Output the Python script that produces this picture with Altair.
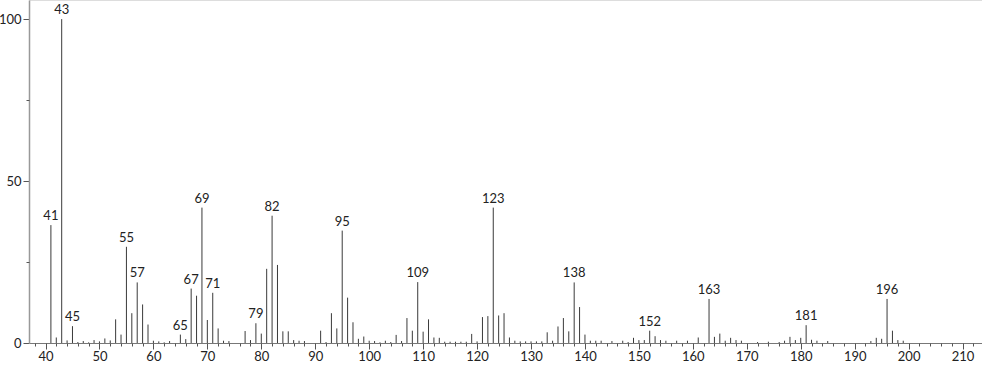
import altair as alt
import pandas as pd

mz = [41, 42, 43, 44, 45, 46, 47, 48, 49, 50, 51, 52, 53, 54, 55, 56, 57, 58, 59, 60,
      61, 62, 63, 65, 66, 67, 68, 69, 70, 71, 72, 73, 74, 77, 78, 79, 80, 81, 82, 83,
      84, 85, 86, 87, 88, 91, 92, 93, 94, 95, 96, 97, 98, 99, 100, 101, 102, 103, 104, 105,
      106, 107, 108, 109, 110, 111, 112, 113, 114, 115, 116, 117, 118, 119, 120, 121, 122, 123, 124, 125,
      126, 127, 128, 129, 130, 131, 132, 133, 134, 135, 136, 137, 138, 139, 140, 141, 142, 143, 145, 147,
      148, 149, 150, 151, 152, 153, 154, 155, 157, 159, 161, 163, 164, 165, 166, 167, 168, 169, 172, 174,
      176, 177, 178, 179, 180, 181, 182, 183, 185, 193, 194, 195, 196, 197, 198, 199]
intensity = [36.4, 1.7, 100, 0.8, 5.2, 0.3, 0.6, 0.2, 0.9, 0.5, 1.4, 0.8, 7.3, 2.6, 29.7, 9.2, 18.7, 11.9, 5.7, 0.7,
             0.5, 0.2, 0.6, 2.6, 1.2, 16.8, 14.6, 41.8, 7.1, 15.5, 4.5, 0.7, 0.6, 3.7, 0.9, 6.1, 2.9, 22.9, 39.3, 24.1,
             3.6, 3.6, 0.9, 0.7, 0.6, 3.8, 0.3, 9.2, 4.5, 34.7, 14.0, 6.4, 1.3, 2.0, 0.7, 0.6, 0.2, 0.7, 0.3, 2.5,
             0.6, 7.7, 3.8, 18.8, 3.5, 7.3, 1.7, 1.6, 0.4, 0.4, 0.4, 0.4, 0.4, 2.8, 0.5, 8.0, 8.3, 41.8, 8.5, 9.2,
             1.7, 0.7, 0.5, 0.5, 0.5, 0.5, 0.5, 3.3, 0.7, 5.1, 7.7, 3.6, 18.7, 11.1, 2.6, 0.7, 0.7, 0.7, 0.6, 0.7,
             0.3, 1.6, 0.9, 0.9, 3.8, 2.1, 0.9, 0.7, 0.7, 0.7, 1.7, 13.6, 1.9, 2.9, 0.7, 1.6, 0.9, 0.7, 0.3, 0.4,
             0.3, 0.7, 1.9, 0.9, 1.6, 5.5, 1.0, 0.7, 0.6, 0.6, 1.6, 1.3, 13.6, 3.8, 0.9, 0.7]
labeled = [41, 43, 45, 55, 57, 65, 67, 69, 71, 79, 82, 95, 109, 123, 138, 152, 163, 181, 196]

x_major = list(range(40, 211, 10))
x_minor = list(range(38, 214, 2))
y_major = [0, 50, 100]
y_minor = [25, 75]

df = pd.DataFrame({"mz": mz, "intensity": intensity})

FONT = "Lato"
x_scale = alt.Scale(domain=[36.94, 213.6], nice=False, zero=False)
y_scale = alt.Scale(domain=[0, 105.9], nice=False)

x_axis_major = alt.Axis(
    values=x_major, orient="bottom", tickSize=6, labelOverlap=False, grid=False, title=None,
    domainColor="#777", tickColor="#555", labelColor="#222",
    labelFont=FONT, labelFontSize=13, labelPadding=1,
)
x_axis_minor = alt.Axis(
    values=x_minor, orient="bottom", tickSize=3, labels=False, domain=False, grid=False,
    title=None, tickColor="#555",
)
y_axis_major = alt.Axis(
    values=y_major, orient="left", tickSize=6, labelOverlap=False, grid=False, title=None,
    domainColor="#999", domainWidth=1.5, tickColor="#555", labelColor="#222",
    labelFont=FONT, labelFontSize=13, labelPadding=2,
)
y_axis_minor = alt.Axis(
    values=y_minor, orient="left", tickSize=3, labels=False, domain=False, grid=False,
    title=None, tickColor="#555",
)

rules = alt.Chart(df).mark_rule(color="#3a3a3a", strokeWidth=1).encode(
    x=alt.X("mz:Q", scale=x_scale, axis=x_axis_major),
    y=alt.Y("intensity:Q", scale=y_scale, axis=y_axis_major),
    y2=alt.datum(0),
)

labels = alt.Chart(df).transform_filter(
    alt.FieldOneOfPredicate(field="mz", oneOf=labeled)
).mark_text(baseline="alphabetic", dy=-5, font=FONT, fontSize=13, color="#222").encode(
    x=alt.X("mz:Q", scale=x_scale, axis=x_axis_minor),
    y=alt.Y("intensity:Q", scale=y_scale, axis=y_axis_minor),
    text=alt.Text("mz:Q"),
)

chart = (rules + labels).resolve_axis(x="independent", y="independent").properties(
    width=953, height=343,
    autosize=alt.AutoSizeParams(type="none"),
    padding={"left": 29, "top": 0, "right": 0, "bottom": 22},
).configure_view(stroke=None).configure(background="white")

chart.save("out.html", embed_options={"renderer": "svg", "actions": False})
